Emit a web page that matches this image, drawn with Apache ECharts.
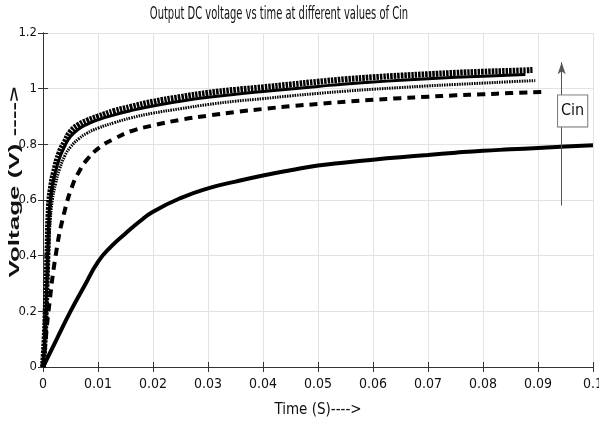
<!DOCTYPE html>
<html>
<head>
<meta charset="utf-8">
<script src="https://cdn.jsdelivr.net/npm/echarts@6/dist/echarts.min.js"></script>
<style>
html, body { margin: 0; padding: 0; background: #fff; }
#main { width: 599px; height: 429px; }
</style>
</head>
<body>
<div id="main"></div>
<script>
// time (s), voltage (V)
var cinTop = [
  [0, 0], [0.0003, 0.1], [0.0005, 0.2], [0.0008, 0.4], [0.0011, 0.58], [0.0015, 0.65],
  [0.002, 0.7], [0.003, 0.77], [0.004, 0.81], [0.005, 0.845], [0.0065, 0.87], [0.008, 0.885],
  [0.01, 0.9], [0.013, 0.92], [0.016, 0.935], [0.02, 0.953], [0.025, 0.97], [0.03, 0.985],
  [0.035, 0.996], [0.04, 1.005], [0.045, 1.015], [0.05, 1.025], [0.055, 1.034], [0.06, 1.041],
  [0.065, 1.047], [0.07, 1.052], [0.075, 1.057], [0.08, 1.061], [0.085, 1.064], [0.089, 1.067]
];
var cinSecond = [
  [0, 0], [0.0003, 0.09], [0.0005, 0.18], [0.0008, 0.38], [0.0011, 0.55], [0.0015, 0.63],
  [0.002, 0.68], [0.003, 0.75], [0.004, 0.795], [0.005, 0.828], [0.0065, 0.855], [0.008, 0.872],
  [0.01, 0.888], [0.013, 0.906], [0.016, 0.921], [0.02, 0.938], [0.025, 0.955], [0.03, 0.969],
  [0.035, 0.98], [0.04, 0.99], [0.045, 0.999], [0.05, 1.008], [0.055, 1.017], [0.06, 1.024],
  [0.065, 1.03], [0.07, 1.036], [0.075, 1.041], [0.08, 1.045], [0.0877, 1.051]
];
var cinThird = [
  [0, 0], [0.0004, 0.1], [0.0007, 0.25], [0.001, 0.42], [0.0013, 0.52], [0.0017, 0.6],
  [0.0023, 0.66], [0.003, 0.71], [0.004, 0.76], [0.005, 0.79], [0.0065, 0.82], [0.008, 0.84],
  [0.01, 0.858], [0.013, 0.878], [0.016, 0.895], [0.02, 0.912], [0.025, 0.928], [0.03, 0.943],
  [0.035, 0.955], [0.04, 0.964], [0.045, 0.974], [0.05, 0.983], [0.055, 0.991], [0.06, 0.998],
  [0.065, 1.004], [0.07, 1.01], [0.075, 1.015], [0.08, 1.02], [0.085, 1.025], [0.0895, 1.029]
];
var cinDashed = [
  [0, 0], [0.0005, 0.1], [0.001, 0.2], [0.0023, 0.4], [0.0038, 0.55], [0.0055, 0.66],
  [0.0065, 0.7], [0.008, 0.745], [0.0105, 0.792], [0.013, 0.82], [0.016, 0.847], [0.02, 0.868],
  [0.025, 0.888], [0.03, 0.903], [0.035, 0.916], [0.04, 0.927], [0.045, 0.937], [0.05, 0.945],
  [0.055, 0.953], [0.06, 0.96], [0.065, 0.966], [0.07, 0.971], [0.075, 0.976], [0.08, 0.98],
  [0.085, 0.984], [0.0906, 0.988]
];
var cinLow = [
  [0, 0], [0.0025, 0.1], [0.005, 0.2], [0.0075, 0.29], [0.01, 0.378], [0.0125, 0.435],
  [0.015, 0.48], [0.0175, 0.522], [0.02, 0.558], [0.025, 0.607], [0.03, 0.642], [0.035, 0.666],
  [0.04, 0.688], [0.045, 0.707], [0.05, 0.724], [0.055, 0.735], [0.06, 0.745], [0.065, 0.754],
  [0.07, 0.762], [0.075, 0.77], [0.08, 0.777], [0.085, 0.782], [0.09, 0.787], [0.095, 0.792],
  [0.1, 0.797]
];
// Cin arrow annotation (data coords)
var arrowFrom = [0.0943, 0.58];
var arrowTo = [0.0943, 1.095];
var cinLabelAt = [0.0963, 0.92];

var narrow = "'Liberation Sans Narrow', 'DejaVu Sans Condensed', 'Liberation Sans', sans-serif";

function fmt(v) {
  return String(parseFloat(v.toFixed(2)));
}

var chart = echarts.init(document.getElementById('main'));

var option = {
  backgroundColor: '#fff',
  animation: false,
  graphic: [{
    type: 'text',
    x: 279, y: 6,
    scaleX: 0.65,
    style: {
      text: 'Output DC voltage vs time at different values of Cin',
      font: '17px ' + narrow,
      fill: '#111',
      align: 'center',
      verticalAlign: 'top'
    }
  }, {
    // y axis title, rotated
    type: 'text',
    x: 15, y: 182,
    rotation: Math.PI / 2,
    scaleY: 0.58,
    style: {
      text: 'Voltage (V) ---->',
      font: 'bold 26px Liberation Sans, Arial, sans-serif',
      fill: '#111',
      align: 'center',
      verticalAlign: 'middle'
    }
  }],
  grid: { left: 43, right: 6, top: 33, bottom: 62, outerBoundsMode: 'none', containLabel: false },
  xAxis: [{
    type: 'value', min: 0, max: 0.1, interval: 0.01,
    name: 'Time (S)---->', nameLocation: 'middle', nameGap: 36,
    nameTextStyle: { fontFamily: narrow, fontSize: 15, color: '#111' },
    axisLine: { lineStyle: { color: '#333' } },
    axisTick: { inside: true, length: 5, lineStyle: { color: '#333' } },
    axisLabel: { formatter: fmt, fontFamily: narrow, fontSize: 14, color: '#111', margin: 10 },
    splitLine: { show: true, lineStyle: { color: '#e3e3e3' } }
  }, {
    type: 'value', min: 0, max: 0.1, interval: 0.01, position: 'top',
    axisLine: { lineStyle: { color: '#333' } },
    axisTick: { inside: true, length: 5, lineStyle: { color: '#333' } },
    axisLabel: { show: false }, splitLine: { show: false }
  }],
  yAxis: [{
    type: 'value', min: 0, max: 1.2, interval: 0.2,
    axisLine: { show: true, lineStyle: { color: '#333' } },
    axisTick: { show: true, inside: true, length: 5, lineStyle: { color: '#333' } },
    axisLabel: { formatter: fmt, fontFamily: narrow, fontSize: 13, color: '#111', margin: 6 },
    splitLine: { show: true, lineStyle: { color: '#e3e3e3' } }
  }, {
    type: 'value', min: 0, max: 1.2, interval: 0.2, position: 'right',
    axisLine: { show: true, lineStyle: { color: '#333' } },
    axisTick: { show: true, inside: true, length: 5, lineStyle: { color: '#333' } },
    axisLabel: { show: false }, splitLine: { show: false }
  }],
  series: [
    {
      type: 'line', data: cinLow, showSymbol: false, smooth: true,
      lineStyle: { color: '#000', width: 4 },
      markLine: {
        silent: true, animation: false,
        symbol: ['none', 'arrow'], symbolSize: [6, 12],
        lineStyle: { color: '#555', width: 1, type: 'solid' },
        label: { show: false },
        data: [[{ coord: arrowFrom }, { coord: arrowTo }]]
      },
      markPoint: {
        silent: true, symbol: 'rect', symbolSize: 0,
        data: [{ coord: cinLabelAt }],
        label: {
          show: true, formatter: 'Cin', fontFamily: narrow, fontSize: 16, color: '#111',
          backgroundColor: '#fff', borderColor: '#777', borderWidth: 1,
          padding: [8, 3, 7, 3]
        }
      }
    },
    {
      type: 'line', data: cinDashed, showSymbol: false, smooth: true,
      lineStyle: { color: '#000', width: 4, type: [8, 6] }
    },
    {
      type: 'line', data: cinThird, showSymbol: false, smooth: true,
      lineStyle: { color: '#000', width: 3, type: [1.5, 1] }
    },
    {
      type: 'line', data: cinSecond, showSymbol: false, smooth: true,
      lineStyle: { color: '#000', width: 3 }
    },
    {
      type: 'line', data: cinTop, showSymbol: false, smooth: true,
      lineStyle: { color: '#000', width: 6, type: [2.5, 1] }
    }
  ]
};

chart.setOption(option);
</script>
</body>
</html>
